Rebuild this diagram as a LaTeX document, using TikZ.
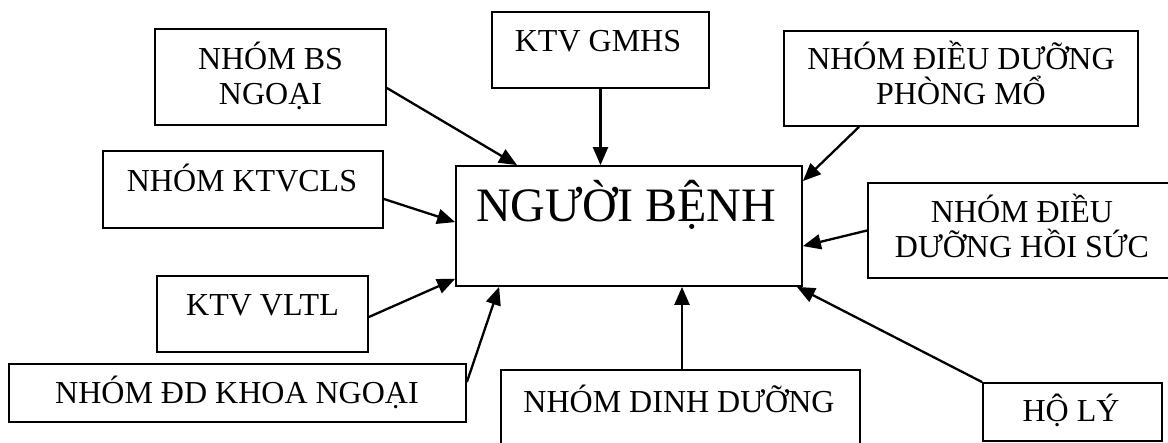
\documentclass[tikz,border=0pt]{standalone}
\usepackage{fontspec}
\setmainfont{Liberation Serif}
\usetikzlibrary{arrows.meta}
\tikzset{
  box/.style={draw, line width=1.8pt, inner sep=0pt, rectangle},
  lbl/.style={inner sep=0pt, align=center, font=\fontsize{32}{35}\selectfont, anchor=base},
  big/.style={inner sep=0pt, font=\fontsize{48}{52}\selectfont, anchor=base},
  arr/.style={line width=2.3pt, -{Triangle[length=18pt,width=15pt]}}
}
\begin{document}
\begin{tikzpicture}[x=1pt,y=-1pt]
\useasboundingbox (0,0) rectangle (1168,443);
\clip (0,0) rectangle (1168,443);
% boxes
\node[box, minimum width=231pt, minimum height=96pt] (bs) at (270.5,77) {};
\node[box, minimum width=217pt, minimum height=76pt] (gm) at (600.5,50) {};
\node[box, minimum width=354pt, minimum height=95pt] (pm) at (961,78.5) {};
\node[box, minimum width=280pt, minimum height=77pt] (cls) at (243,189.5) {};
\node[box, minimum width=346pt, minimum height=120pt] (pt) at (629,226) {};
\node[box, minimum width=308pt, minimum height=95pt] (hs) at (1022,230.5) {};
\node[box, minimum width=211pt, minimum height=76pt] (vl) at (262.5,314) {};
\node[box, minimum width=457pt, minimum height=58pt] (dk) at (237.5,393) {};
\node[box, minimum width=359pt, minimum height=90pt] (dd) at (680.5,415) {};
\node[box, minimum width=179pt, minimum height=58pt] (hl) at (1072.5,412) {};
% labels
\node[lbl] (bst) at (270.5,105) {NHÓM BS\\NGOẠI};
\node[lbl] (gmt) at (598,52) {KTV GMHS};
\node[lbl] (pmt) at (961,105) {NHÓM ĐIỀU DƯỠNG\\PHÒNG MỔ};
\node[lbl] (clst) at (242,192) {NHÓM KTVCLS};
\node[big] (ptt) at (626,222) {NGƯỜI BỆNH};
\node[lbl] (hst) at (1022,258) {NHÓM ĐIỀU\\DƯỠNG HỒI SỨC};
\node[lbl] (vlt) at (262.5,316) {KTV VLTL};
\node[lbl] (dkt) at (237,404) {NHÓM ĐD KHOA NGOẠI};
\node[lbl] (ddt) at (679,413) {NHÓM DINH DƯỠNG};
\node[lbl] (hlt) at (1071,422) {HỘ LÝ};
% connectors
\draw[arr] ([yshift=-11pt]bs.east) -- ([xshift=-112pt]pt.north);
\draw[arr] (gm.south) -- (gm.south |- pt.north);
\draw[arr] ([xshift=-102pt]pm.south) -- ([yshift=-16pt]pt.north east);
\draw[arr] ([yshift=-9.5pt]cls.east) -- ([yshift=-57pt]pt.north west);
\draw[arr] (hs.west) -- ([yshift=-81pt]pt.north east);
\draw[arr] ([yshift=-3pt]vl.east) -- ([yshift=8pt]pt.south west);
\draw[arr] ([yshift=11pt]dk.east) -- ([xshift=44pt]pt.south west);
\draw[arr] ([xshift=1.5pt]dd.north) -- ([xshift=1.5pt]dd.north |- pt.south);
\draw[arr] (hl.north west) -- ([xshift=-6pt]pt.south east);
\end{tikzpicture}
\end{document}
